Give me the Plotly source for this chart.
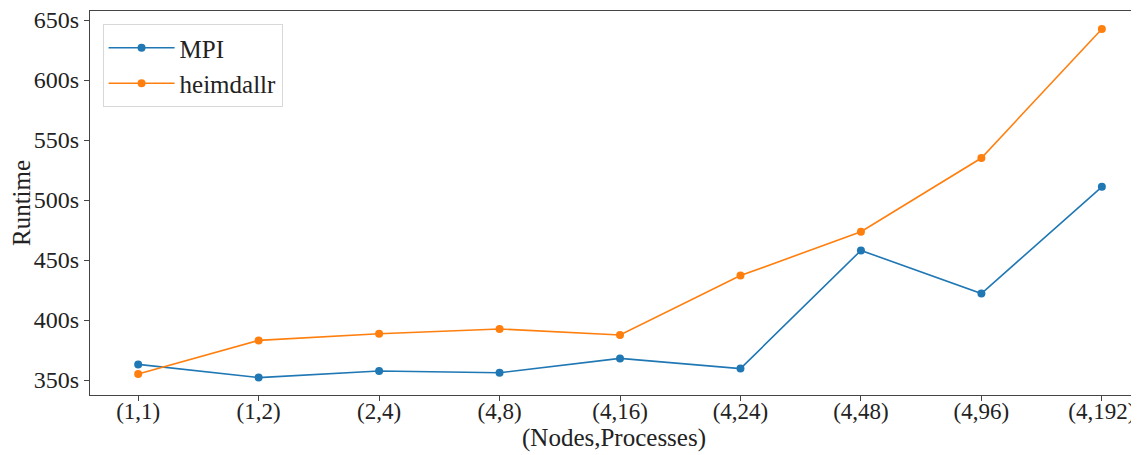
import plotly.graph_objects as go

categories = ["(1,1)", "(1,2)", "(2,4)", "(4,8)", "(4,16)", "(4,24)", "(4,48)", "(4,96)", "(4,192)"]
mpi = [363, 352, 357.5, 356, 368, 359.5, 458, 422, 511]
heimdallr = [355, 383, 388.5, 392.5, 387.5, 437, 473.5, 535, 642.5]
y_ticks = [350, 400, 450, 500, 550, 600, 650]
y_tick_labels = [f"{v}s" for v in y_ticks]

FONT = "Liberation Serif"
x_idx = list(range(len(categories)))

fig = go.Figure()
fig.add_trace(go.Scatter(x=x_idx, y=mpi, name="MPI", mode="lines+markers",
                         legendgroup="a",
                         line=dict(color="#1f77b4", width=1.6),
                         marker=dict(size=8, color="#1f77b4")))
fig.add_trace(go.Scatter(x=x_idx, y=heimdallr, name="heimdallr", mode="lines+markers",
                         legendgroup="b",
                         line=dict(color="#ff7f0e", width=1.6),
                         marker=dict(size=8, color="#ff7f0e")))

# page body has an 8px default margin, so the figure is sized to compensate
fig.update_layout(
    width=1131, height=447,
    margin=dict(l=82, r=1, t=3, b=60, autoexpand=False),
    plot_bgcolor="white", paper_bgcolor="white",
    font=dict(family=FONT, size=24, color="#222"),
    showlegend=True,
    legend=dict(x=0.012, y=0.966, xanchor="left", yanchor="top",
                bgcolor="rgba(255,255,255,0.8)", bordercolor="#d8d8d8", borderwidth=1,
                font=dict(family=FONT, size=25, color="#222"),
                itemwidth=66, traceorder="grouped", tracegroupgap=0),
    xaxis=dict(
        range=[-0.4, 8.3], tickmode="array", tickvals=x_idx, ticktext=categories,
        automargin=False, ticklabeloverflow="allow",
        showgrid=False, zeroline=False, showline=True, linecolor="#444", linewidth=1,
        mirror=True, ticks="outside", ticklen=5, tickcolor="#444",
        ticklabelstandoff=-10,
        tickfont=dict(family=FONT, size=23, color="#222"),
        title=dict(text="(Nodes,Processes)", font=dict(family=FONT, size=25, color="#222"), standoff=2),
    ),
    yaxis=dict(
        range=[337.5, 657.5], tickmode="array", tickvals=y_ticks, ticktext=y_tick_labels,
        automargin=False, ticklabeloverflow="allow",
        showgrid=False, zeroline=False, showline=True, linecolor="#444", linewidth=1,
        mirror=True, ticks="outside", ticklen=5, tickcolor="#444",
        tickfont=dict(family=FONT, size=24, color="#222"),
        title=dict(text="Runtime", font=dict(family=FONT, size=25, color="#222"), standoff=4),
    ),
)

fig.write_html("out.html")
